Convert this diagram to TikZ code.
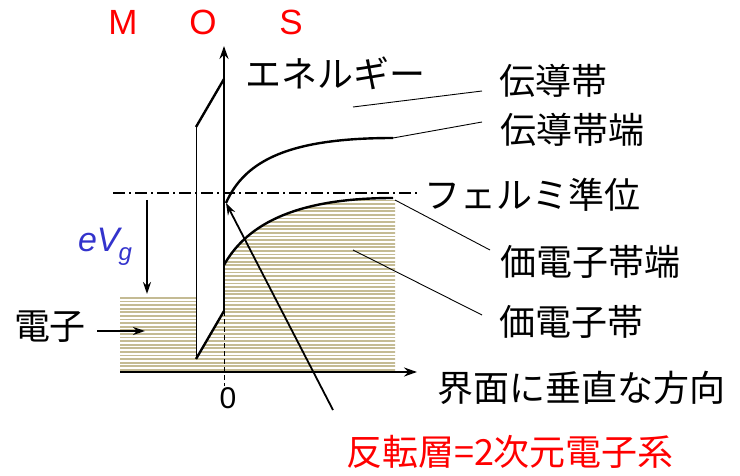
\documentclass[tikz,border=0pt]{standalone}
\usepackage{fontspec}
\setmainfont{Liberation Sans}
\newfontfamily\jpfont{Noto Sans CJK JP}
\usetikzlibrary{arrows.meta}
\definecolor{hatchc}{RGB}{196,187,148}
\definecolor{evblue}{RGB}{51,51,204}
\definecolor{redc}{RGB}{255,0,0}
\begin{document}
\begin{tikzpicture}[x=1pt,y=-1pt,
  lbl/.style={inner sep=0pt, font=\jpfont\fontsize{36}{40}\selectfont},
  mos/.style={inner sep=0pt, text=redc, font=\fontsize{35}{40}\selectfont},
  axisarrow/.style={line width=2.4pt, -{Stealth[length=13pt,width=9pt]}},
  thickline/.style={line width=2.4pt},
  thinarrow/.style={line width=1.8pt, -{Stealth[length=12pt,width=8pt]}},
  leader/.style={line width=0.9pt},
  hatch/.style={hatchc, line width=1.8pt}]
\useasboundingbox (0,0) rectangle (740,476);

% hatched regions (metal + semiconductor)
\begin{scope}
\clip (120,297) -- (196,297) -- (196,359) -- (224,311) -- (224,265)
  .. controls (248,222) and (300,198) .. (393,198) -- (395,198)
  -- (395,372) -- (120,372) -- cycle;
\foreach \k in {0,...,50} \draw[hatch] (110,{197+3.6*\k}) -- (400,{197+3.6*\k});
\end{scope}

% coordinates
\coordinate (vb0) at (224,265);
\coordinate (vb1) at (393,198);
\coordinate (cb0) at (226,203);
\coordinate (cb1) at (393,138);
\coordinate (oxTL) at (196,127);
\coordinate (oxTR) at (224,79);
\coordinate (oxBL) at (196,359);
\coordinate (oxBR) at (224,311);
\coordinate (eTop) at (224,46);
\coordinate (dashEnd) at (224,386);
\coordinate (hx0) at (120,372);
\coordinate (hx1) at (417,372);
\coordinate (ef0) at (113,193);
\coordinate (ef1) at (420,193);
\coordinate (ev0) at (147,200);
\coordinate (ev1) at (147,294);
\coordinate (inv0) at (333,410);
\coordinate (el0) at (97,331);
\coordinate (el1) at (145,331);
\coordinate (cbIn) at (353,107);
\coordinate (cbOut) at (482,91);
\coordinate (cbeOut) at (482,122);
\coordinate (vbeIn) at (395,200);
\coordinate (vbeOut) at (490,250);
\coordinate (vbIn) at (353,250);
\coordinate (vbOut) at (482,315);

% bands
\draw[thickline] (vb0) .. controls (248,222) and (300,198) .. (vb1);
\draw[thickline] (cb0) .. controls (245,160) and (290,138) .. (cb1);

% oxide
\draw[line width=0.9pt] (oxTL) -- (oxBL);
\draw[thickline] (oxTL) -- (oxTR);
\draw[thickline] (oxBL) -- (oxBR);

% axes
\draw[axisarrow] (oxBR) -- (eTop);
\draw[line width=0.8pt, dash pattern=on 5pt off 3pt] (oxBR) -- (dashEnd);
\draw[axisarrow] (hx0) -- (hx1);

% Fermi level
\draw[line width=1.2pt, dash pattern=on 12pt off 4pt on 2pt off 4pt] (ef0) -- (ef1);

% arrows
\draw[thinarrow] (ev0) -- (ev1);
\draw[thinarrow] (inv0) -- (cb0);
\draw[thinarrow] (el0) -- (el1);

% leaders
\draw[leader] (cbIn) -- (cbOut);
\draw[leader] (cb1) -- (cbeOut);
\draw[leader] (vbeIn) -- (vbeOut);
\draw[leader] (vbIn) -- (vbOut);

% texts
\node[mos] (M) at (123,22) {M};
\node[mos] (O) at (203,22) {O};
\node[mos] (S) at (291,22) {S};
\node[lbl] (energy) at (335,73) {エネルギー};
\node[lbl] (cband) at (553,81) {伝導帯};
\node[lbl] (cedge) at (572,130) {伝導帯端};
\node[lbl] (fermi) at (532,195) {フェルミ準位};
\node[lbl] (vedge) at (590,262) {価電子帯端};
\node[lbl] (vband) at (571,322) {価電子帯};
\node[lbl] (elec) at (50,327) {電子};
\node[lbl] (dir) at (581,388) {界面に垂直な方向};
\node[lbl, text=redc] (inv) at (510,452) {反転層=2次元電子系};
\node[inner sep=0pt, font=\fontsize{30}{36}\selectfont] (zero) at (228,398) {0};
\node[inner sep=0pt, text=evblue, font=\fontsize{34}{40}\selectfont\itshape] (evg) at (105,247)
  {eV\kern-1pt\raisebox{-9pt}{\fontsize{24}{28}\selectfont g}};
\end{tikzpicture}
\end{document}
